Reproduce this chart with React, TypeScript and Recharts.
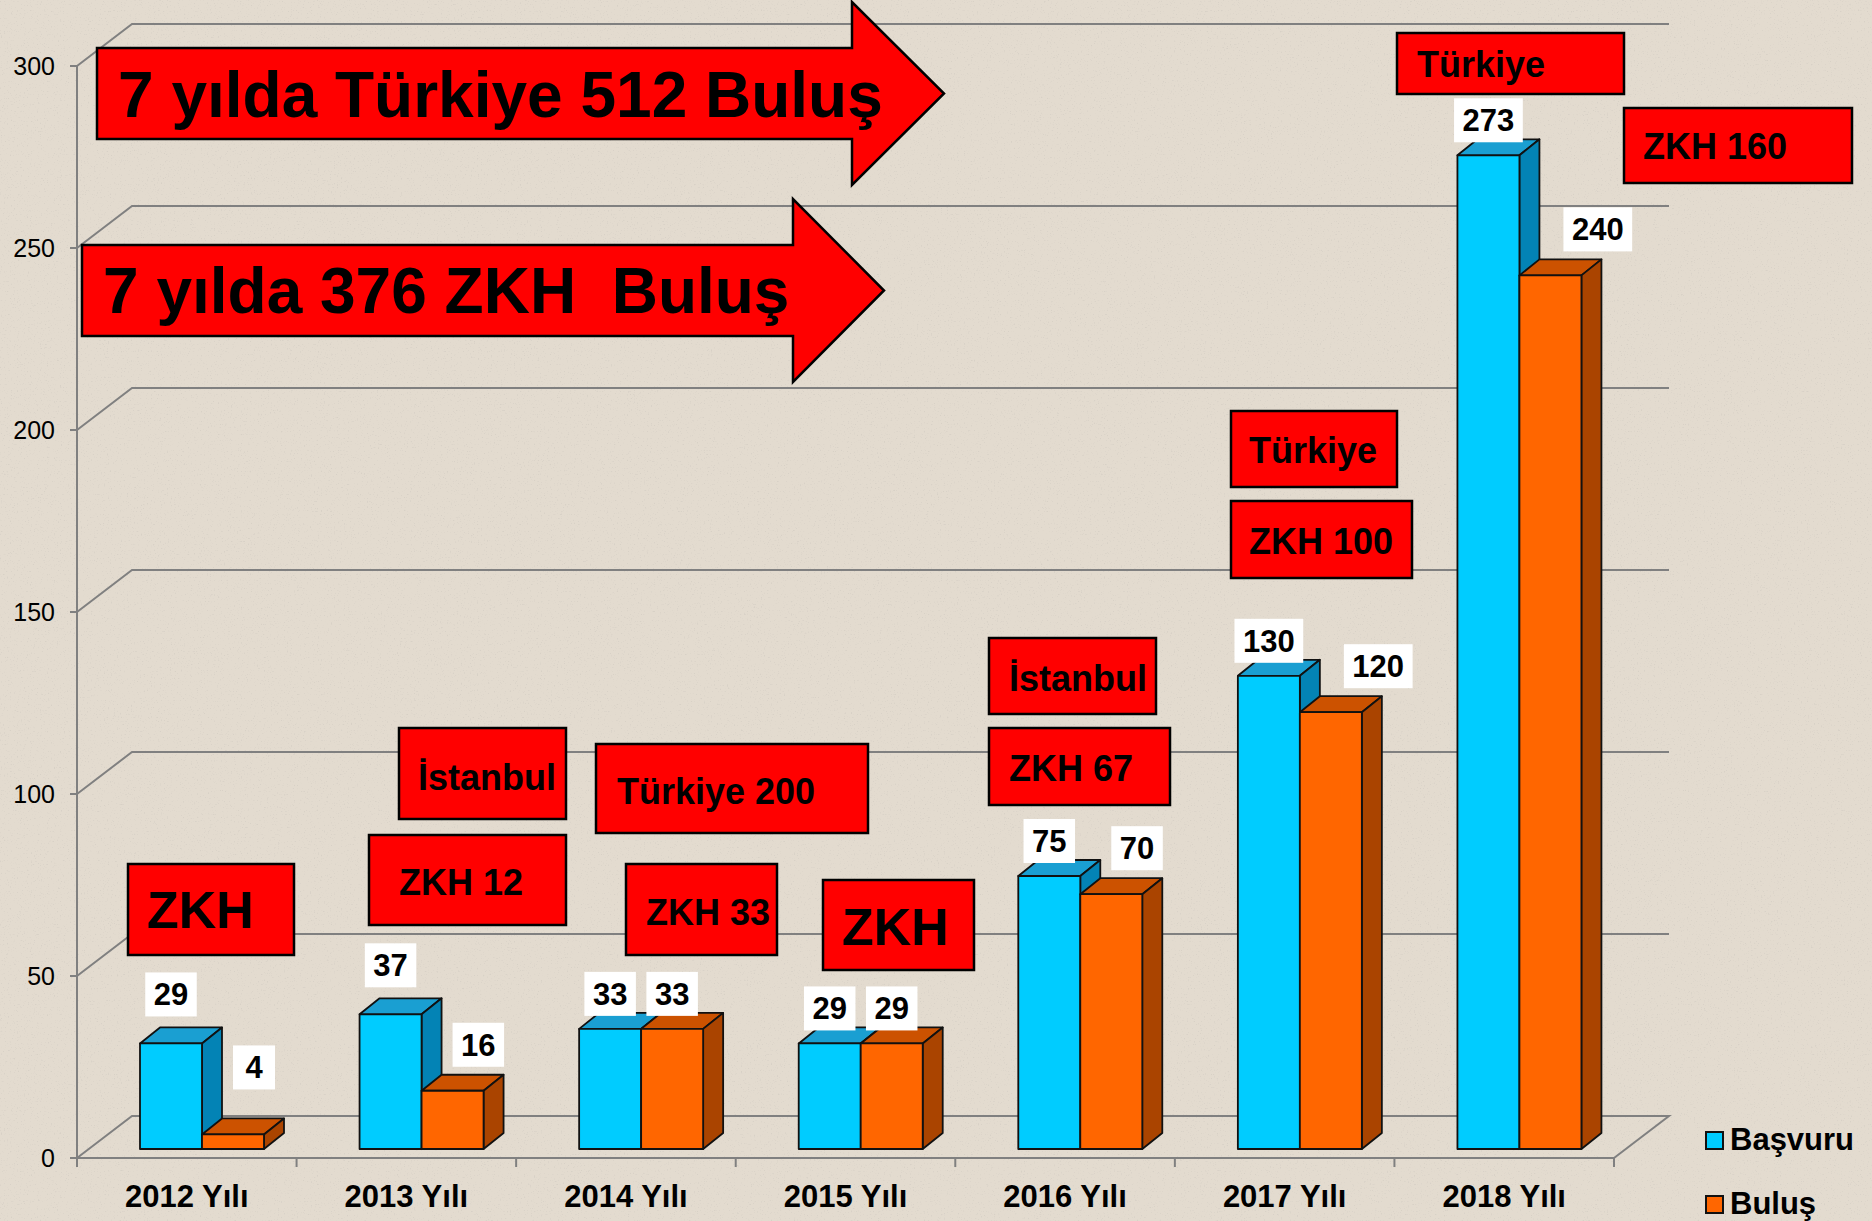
import React from "react";
import {
  Bar,
  BarChart,
  CartesianGrid,
  LabelList,
  XAxis,
  YAxis,
} from "recharts";

const categories = [
  "2012 Yılı",
  "2013 Yılı",
  "2014 Yılı",
  "2015 Yılı",
  "2016 Yılı",
  "2017 Yılı",
  "2018 Yılı",
];
const basvuru = [29, 37, 33, 29, 75, 130, 273];
const bulus = [4, 16, 33, 29, 70, 120, 240];
const yTicks = [0, 50, 100, 150, 200, 250, 300];
const seriesNames = ["Başvuru", "Buluş"];

const data = categories.map((year, i) => ({
  year,
  basvuru: basvuru[i],
  bulus: bulus[i],
}));

const W = 1872;
const H = 1221;
const PLOT_LEFT = 77;
const PLOT_RIGHT = 1614;
const PLOT_TOP = 66;
const PLOT_BOTTOM = 1158;
const FONT = "'Liberation Sans', Arial, sans-serif";
const GRID = "#808080";
const CYAN = ["#00ccff", "#1a9fd2", "#0383b5"];
const ORANGE = ["#ff6600", "#cc5200", "#aa4400"];

// wall depth, bar offset into the wall, bar box depth
const WALL_DX = 55;
const WALL_DY = 42;
const SX = 15;
const SY = 9;
const BDX = 20;
const BDY = 16;

const makeBox = (c: string[]) => (props: any) => {
  const { x, y, width: w, height: h } = props;
  if (w == null || h == null) return null;
  const fx = x + SX;
  const fy = y - SY;
  const st = { stroke: "#111", strokeWidth: 1.8, strokeLinejoin: "round" as const };
  return (
    <g>
      <polygon
        points={`${fx},${fy} ${fx + BDX},${fy - BDY} ${fx + w + BDX},${fy - BDY} ${fx + w},${fy}`}
        fill={c[1]}
        {...st}
      />
      <polygon
        points={`${fx + w},${fy} ${fx + w + BDX},${fy - BDY} ${fx + w + BDX},${fy + h - BDY} ${fx + w},${fy + h}`}
        fill={c[2]}
        {...st}
      />
      <rect x={fx} y={fy} width={w} height={h} fill={c[0]} {...st} />
    </g>
  );
};

const makeLabel = (series: "basvuru" | "bulus") => (props: any) => {
  const { x, y, width, value, index } = props;
  const txt = String(value);
  const bw = Math.max(42, txt.length * 17.25 + 17);
  const frontTop = y - SY;
  let cx = x + SX + width / 2;
  let bottom = frontTop - 13;
  if (series === "basvuru" && value / bulus[index] > 1.5) {
    bottom = frontTop - 27;
  }
  if (series === "bulus" && basvuru[index] - value > 3) {
    cx += bw / 2 + (txt.length >= 3 ? 13 : 0);
    bottom = frontTop - (basvuru[index] / value > 3 ? 45 : 24);
  }
  return (
    <g>
      <rect x={cx - bw / 2} y={bottom - 44} width={bw} height={44} fill="#fff" />
      <text
        x={cx}
        y={bottom - 22 + 11}
        textAnchor="middle"
        fontFamily={FONT}
        fontWeight={700}
        fontSize={31}
        fill="#000"
      >
        {txt}
      </text>
    </g>
  );
};

const gridLine = (props: any) => {
  const { x1, y1, x2, index } = props;
  const isFloor = Math.abs(y1 - PLOT_BOTTOM) < 1;
  let d = `M${x1},${y1} L${x1 + WALL_DX},${y1 - WALL_DY} L${x2 + WALL_DX},${y1 - WALL_DY}`;
  if (isFloor) d += ` L${x2},${y1}`;
  return <path key={`g-${index}`} d={d} fill="none" stroke={GRID} strokeWidth={2} />;
};

const XTick = (props: any) => {
  const { x, payload, index } = props;
  const band = (PLOT_RIGHT - PLOT_LEFT) / categories.length;
  const left = x - band / 2;
  return (
    <g>
      <line x1={left} y1={PLOT_BOTTOM} x2={left} y2={PLOT_BOTTOM + 9} stroke={GRID} strokeWidth={2} />
      {index === categories.length - 1 && (
        <line x1={left + band} y1={PLOT_BOTTOM} x2={left + band} y2={PLOT_BOTTOM + 9} stroke={GRID} strokeWidth={2} />
      )}
      <text x={x} y={1207} textAnchor="middle" fontFamily={FONT} fontWeight={700} fontSize={31} fill="#000">
        {payload.value}
      </text>
    </g>
  );
};

type Box = { x1: number; x2: number; y1: number; y2: number; text: string; tx: number; ty: number; size: number };

const boxes: Box[] = [
  { x1: 128, x2: 294, y1: 864, y2: 955, text: "ZKH", tx: 147, ty: 928, size: 52 },
  { x1: 399, x2: 566, y1: 728, y2: 819, text: "İstanbul", tx: 418, ty: 790, size: 36 },
  { x1: 369, x2: 566, y1: 835, y2: 925, text: "ZKH 12", tx: 399, ty: 895, size: 36 },
  { x1: 596, x2: 868, y1: 744, y2: 833, text: "Türkiye 200", tx: 617, ty: 804, size: 36 },
  { x1: 626, x2: 777, y1: 864, y2: 955, text: "ZKH 33", tx: 646, ty: 925, size: 36 },
  { x1: 823, x2: 974, y1: 880, y2: 970, text: "ZKH", tx: 842, ty: 945, size: 52 },
  { x1: 989, x2: 1156, y1: 638, y2: 714, text: "İstanbul", tx: 1009, ty: 691, size: 36 },
  { x1: 989, x2: 1170, y1: 728, y2: 805, text: "ZKH 67", tx: 1009, ty: 781, size: 36 },
  { x1: 1231, x2: 1397, y1: 411, y2: 487, text: "Türkiye", tx: 1249, ty: 463, size: 36 },
  { x1: 1231, x2: 1412, y1: 501, y2: 578, text: "ZKH 100", tx: 1249, ty: 554, size: 36 },
  { x1: 1397, x2: 1624, y1: 33, y2: 94, text: "Türkiye", tx: 1417, ty: 77, size: 36 },
  { x1: 1624, x2: 1852, y1: 108, y2: 183, text: "ZKH 160", tx: 1643, ty: 159, size: 36 },
];

// faint speckle like the paper texture of the slide
const Paper = () => (
  <svg width={W} height={H} style={{ position: "absolute", left: 0, top: 0 }}>
    <defs>
      <filter id="speckle" x="0" y="0" width="100%" height="100%">
        <feTurbulence type="fractalNoise" baseFrequency="0.7" numOctaves={2} seed={3} />
        <feColorMatrix
          type="matrix"
          values="0 0 0 0 0.55  0 0 0 0 0.52  0 0 0 0 0.48  5 0 0 0 -3.1"
        />
      </filter>
    </defs>
    <rect width={W} height={H} fill="#e3dbcf" />
    <rect width={W} height={H} filter="url(#speckle)" opacity={0.35} />
  </svg>
);

const Overlay = () => (
  <svg width={W} height={H} style={{ position: "absolute", left: 0, top: 0, pointerEvents: "none" }}>
    <path
      d="M97,48 L852,48 L852,2 L944,93.5 L852,185 L852,139 L97,139 Z"
      fill="#ff0000"
      stroke="#000"
      strokeWidth={2.5}
    />
    <text x={118} y={117} fontFamily={FONT} fontWeight={700} fontSize={64} fill="#000">
      7 yılda Türkiye 512 Buluş
    </text>
    <path
      d="M82,245 L793,245 L793,199 L884,290.5 L793,382 L793,336 L82,336 Z"
      fill="#ff0000"
      stroke="#000"
      strokeWidth={2.5}
    />
    <text x={103} y={313} fontFamily={FONT} fontWeight={700} fontSize={64} fill="#000" style={{ whiteSpace: "pre" }}>
      {"7 yılda 376 ZKH  Buluş"}
    </text>
    {boxes.map((b, i) => (
      <g key={i}>
        <rect x={b.x1} y={b.y1} width={b.x2 - b.x1} height={b.y2 - b.y1} fill="#ff0000" stroke="#000" strokeWidth={2.5} />
        <text x={b.tx} y={b.ty} fontFamily={FONT} fontWeight={700} fontSize={b.size} fill="#000">
          {b.text}
        </text>
      </g>
    ))}
    {seriesNames.map((name, i) => (
      <g key={name}>
        <rect
          x={1706}
          y={1132 + 64 * i}
          width={17}
          height={17}
          fill={i === 0 ? CYAN[0] : ORANGE[0]}
          stroke="#111"
          strokeWidth={2}
        />
        <text x={1730} y={1150 + 64 * i} fontFamily={FONT} fontWeight={700} fontSize={31} fill="#000">
          {name}
        </text>
      </g>
    ))}
  </svg>
);

export default function App() {
  return (
    <div
      style={{
        position: "absolute",
        left: 0,
        top: 0,
        width: W,
        height: H,
        background: "#e3dbcf",
        overflow: "hidden",
      }}
    >
      <Paper />
      <div style={{ position: "absolute", left: 0, top: 0 }}>
        <BarChart
          width={W}
          height={H}
          data={data}
          margin={{ top: PLOT_TOP, right: W - PLOT_RIGHT, bottom: 0, left: 0 }}
          barGap={0}
          barSize={62}
        >
          <CartesianGrid vertical={false} horizontal={gridLine} />
          <XAxis
            dataKey="year"
            axisLine={{ stroke: GRID, strokeWidth: 2 }}
            tickLine={false}
            tick={<XTick />}
            interval={0}
            height={H - PLOT_BOTTOM}
          />
          <YAxis
            width={PLOT_LEFT}
            domain={[0, 300]}
            ticks={yTicks}
            interval={0}
            axisLine={{ stroke: GRID, strokeWidth: 2 }}
            tickLine={{ stroke: GRID, strokeWidth: 2 }}
            tickSize={7}
            tickMargin={15}
            tick={{ fontSize: 25, fill: "#000", fontFamily: FONT }}
          />
          <Bar
            dataKey="basvuru"
            name={seriesNames[0]}
            fill={CYAN[0]}
            shape={makeBox(CYAN)}
            isAnimationActive={false}
          >
            <LabelList dataKey="basvuru" content={makeLabel("basvuru")} />
          </Bar>
          <Bar
            dataKey="bulus"
            name={seriesNames[1]}
            fill={ORANGE[0]}
            shape={makeBox(ORANGE)}
            isAnimationActive={false}
          >
            <LabelList dataKey="bulus" content={makeLabel("bulus")} />
          </Bar>
        </BarChart>
      </div>
      <Overlay />
    </div>
  );
}
